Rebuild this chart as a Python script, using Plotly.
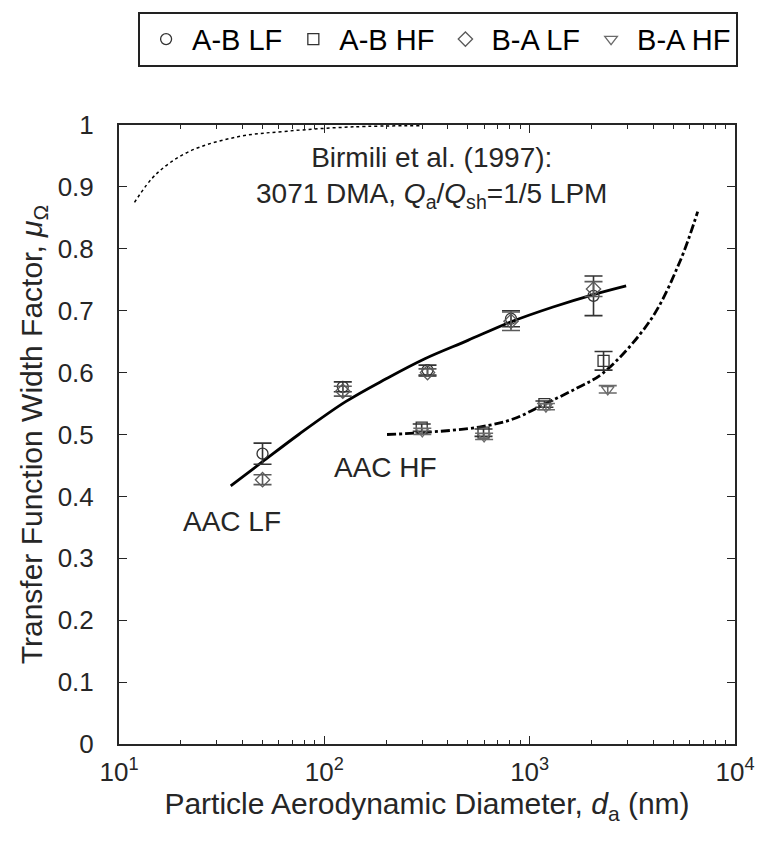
import plotly.graph_objects as go

# ---- data ----
lf_d = [50, 123, 318, 811, 2046]
ab_lf = [0.469, 0.577, 0.604, 0.687, 0.724]
ab_lf_err = [0.017, 0.008, 0.008, 0.013, 0.032]
ba_lf = [0.427, 0.570, 0.600, 0.683, 0.735]
ba_lf_err = [0.008, 0.008, 0.006, 0.015, 0.012]

hf_d_ab = [298, 596, 1180, 2290]
ab_hf = [0.511, 0.503, 0.549, 0.619]
ab_hf_err = [0.006, 0.006, 0.005, 0.015]
hf_d_ba = [300, 600, 1200, 2400]
ba_hf = [0.505, 0.497, 0.545, 0.573]
ba_hf_err = [0.005, 0.005, 0.005, 0.006]

# fitted curves
lf_curve_d = [35, 50, 75, 127, 200, 307, 500, 811, 1300, 2046, 2950]
lf_curve_mu = [0.417, 0.456, 0.50, 0.553, 0.59, 0.622, 0.652, 0.682, 0.706, 0.726, 0.74]
hf_curve_d = [202, 300, 568, 830, 1180, 1700, 2290, 3880, 5400, 6580]
hf_curve_mu = [0.50, 0.503, 0.512, 0.525, 0.549, 0.575, 0.60, 0.685, 0.78, 0.86]
bir_d = [11.9, 15.2, 21.9, 37.9, 65.8, 138, 300]
bir_mu = [0.875, 0.921, 0.957, 0.981, 0.99, 0.997, 0.999]

FONT = "Liberation Sans, Arial, sans-serif"
TXT = "#262626"

fig = go.Figure()

fig.add_trace(go.Scatter(x=bir_d, y=bir_mu, mode="lines", line=dict(color="black", width=1.5, dash="dot", shape="spline"), showlegend=False))
fig.add_trace(go.Scatter(x=lf_curve_d, y=lf_curve_mu, mode="lines", line=dict(color="black", width=2.8, shape="spline"), showlegend=False))
fig.add_trace(go.Scatter(x=hf_curve_d, y=hf_curve_mu, mode="lines", line=dict(color="black", width=2.8, dash="dashdot", shape="spline"), showlegend=False))

def pts(x, y, err, sym, name, color):
    fig.add_trace(go.Scatter(
        x=x, y=y, mode="markers", name=name,
        marker=dict(symbol=sym, size=11, color=color, line=dict(color=color, width=1.3)),
        error_y=dict(type="data", array=err, visible=True, color=color, thickness=1.6, width=9),
    ))

pts(lf_d, ab_lf, ab_lf_err, "circle-open", "A-B LF", "#333333")
pts(hf_d_ab, ab_hf, ab_hf_err, "square-open", "A-B HF", "#333333")
pts(lf_d, ba_lf, ba_lf_err, "diamond-open", "B-A LF", "#5a5a5a")
pts(hf_d_ba, ba_hf, ba_hf_err, "triangle-down-open", "B-A HF", "#6a6a6a")

fig.add_annotation(x=2.52, y=0.975, xref="x", yref="y", showarrow=False,
                   text="Birmili et al. (1997):<br>3071 DMA, <i>Q</i><sub>a</sub>/<i>Q</i><sub>sh</sub>=1/5 LPM",
                   font=dict(family=FONT, size=28, color=TXT), align="center", yanchor="top")
fig.add_annotation(x=1.55, y=0.36, xref="x", yref="y", showarrow=False, text="AAC LF",
                   font=dict(family=FONT, size=28, color=TXT))
fig.add_annotation(x=2.3, y=0.447, xref="x", yref="y", showarrow=False, text="AAC HF",
                   font=dict(family=FONT, size=28, color=TXT))

fig.update_layout(
    width=767, height=842,
    margin=dict(l=119, r=21, t=121, b=98),
    paper_bgcolor="white", plot_bgcolor="white",
    font=dict(family=FONT, size=26, color=TXT),
    legend=dict(orientation="h", x=0.518, xanchor="center", y=1.183, yanchor="top",
                bordercolor="#222222", borderwidth=2, bgcolor="white",
                font=dict(family=FONT, size=29, color="black"),
                itemwidth=42, tracegroupgap=0),
    xaxis=dict(type="log", range=[1, 4], tickvals=[10, 100, 1000, 10000],
               ticktext=["10<sup>1</sup>", "10<sup>2</sup>", "10<sup>3</sup>", "10<sup>4</sup>"],
               ticks="inside", ticklen=8, tickwidth=1.2, tickcolor="#262626",
               tickfont=dict(family=FONT, size=26, color=TXT), ticklabelstandoff=4,
               minor=dict(ticks="inside", ticklen=4, tickcolor="#262626",
                          tickvals=[20,30,40,50,60,70,80,90,200,300,400,500,600,700,800,900,2000,3000,4000,5000,6000,7000,8000,9000]),
               showline=True, linecolor="#262626", linewidth=2, mirror="ticks",
               showgrid=False, zeroline=False,
               title=dict(text="Particle Aerodynamic Diameter, <i>d</i><sub>a</sub> (nm)", standoff=4,
                          font=dict(family=FONT, size=30, color=TXT))),
    yaxis=dict(range=[0, 1], dtick=0.1, tick0=0,
               ticks="inside", ticklen=8, tickwidth=1.2, tickcolor="#262626",
               tickfont=dict(family=FONT, size=26, color=TXT), ticklabelstandoff=18,
               showline=True, linecolor="#262626", linewidth=2, mirror="ticks",
               showgrid=False, zeroline=False,
               title=dict(text="Transfer Function Width Factor, <i>μ</i><sub>Ω</sub>", standoff=6,
                          font=dict(family=FONT, size=30, color=TXT))),
)

fig.write_html("out.html")
